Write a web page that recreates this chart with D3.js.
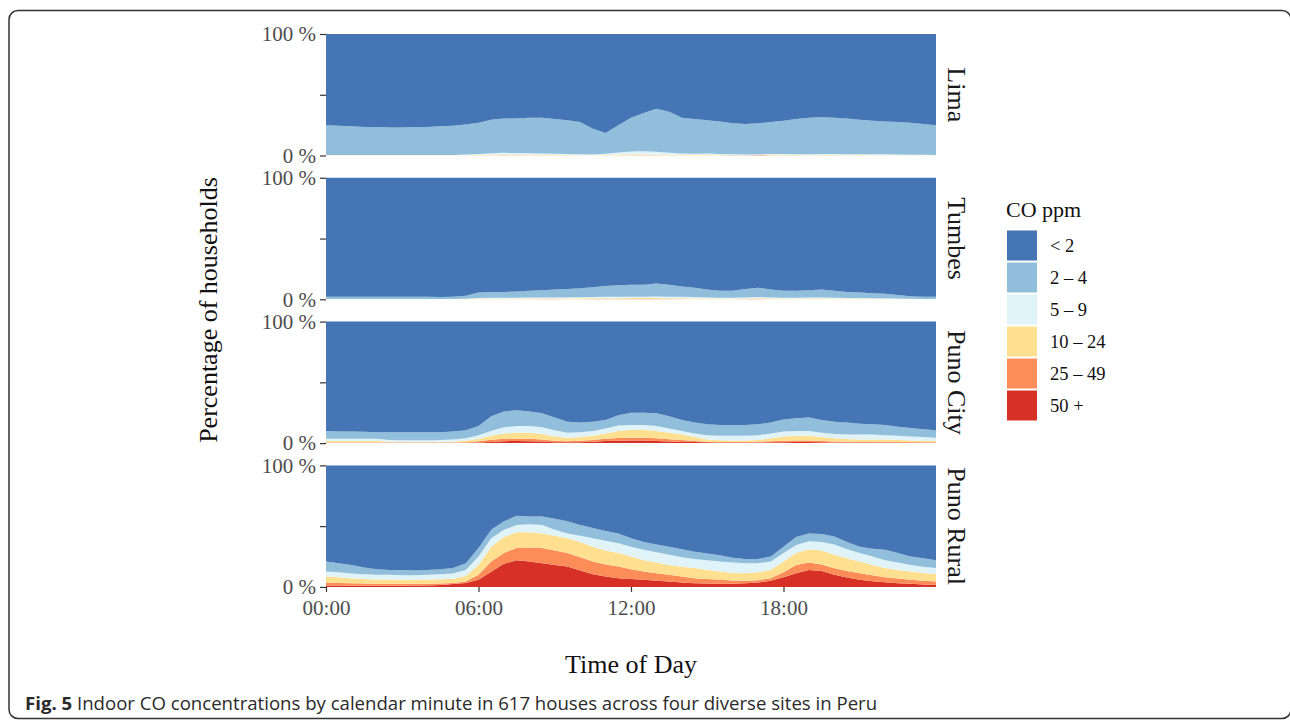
<!DOCTYPE html>
<html>
<head>
<meta charset="utf-8">
<script src="https://cdn.jsdelivr.net/npm/d3@7"></script>
<style>
  html, body { margin: 0; padding: 0; background: #fff; }
  svg { display: block; }
</style>
</head>
<body>
<div id="chart"></div>
<script>
// Percent of households at or above each CO threshold, every 30 minutes (00:00 .. 24:00)
const sites = ['Lima', 'Tumbes', 'Puno City', 'Puno Rural'];
const categories = ['50 +', '25 – 49', '10 – 24', '5 – 9', '2 – 4', '< 2'];
const legendOrder = ['< 2', '2 – 4', '5 – 9', '10 – 24', '25 – 49', '50 +'];
const colors = ['#d73027', '#fc8d59', '#fee090', '#e0f3f8', '#91bfdb', '#4575b4'];
const xTickLabels = ['00:00', '06:00', '12:00', '18:00'];
const xTickHours = [0, 6, 12, 18];

const limaGe2 = [25,24.5,24,23.5,23.5,23,23,23.5,23.5,24, 24.5,25.5,27,29.5,30.5,30.5,31,31,30,29, 27.5,22,18.5,25,31,35,38.5,36,31,30, 29,28,26.5,26,26.5,27.5,28.5,30,31,31.5, 31,30.5,29.5,28.5,28,27.5,27,26,25];
const limaGe5 = [0.5,0.5,0.5,0.5,0.5,0.5,0.5,0.5,0.5,0.5, 0.5,0.8,1.2,1.8,2.2,2,1.8,1.6,1.4,1.2, 1,0.9,1.5,2.5,3.2,3.4,3,2.2,1.6,1.4, 1.6,1.3,1,0.8,0.9,1.3,1.3,1,1,1.3, 1.2,1,1.1,1,1,0.9,0.7,0.6,0.5];
const limaGe10 = [0.2,0.2,0.2,0.2,0.2,0.2,0.2,0.2,0.2,0.2, 0.2,0.3,0.4,0.6,0.8,0.7,0.6,0.6,0.5,0.4, 0.3,0.3,0.4,0.6,0.8,0.8,0.7,0.6,0.5,0.4, 0.5,0.5,0.4,0.3,0.5,0.8,0.6,0.4,0.3,0.5, 0.4,0.3,0.4,0.3,0.3,0.3,0.2,0.2,0.2];
const limaGe25 = [0.1,0.1,0.1,0.1,0.1,0.1,0.1,0.1,0.1,0.1, 0.1,0.1,0.1,0.1,0.2,0.2,0.1,0.1,0.1,0.1, 0.1,0.1,0.1,0.1,0.2,0.2,0.2,0.1,0.1,0.1, 0.1,0.1,0.2,0.3,0.4,0.3,0.1,0.1,0.1,0.1, 0.1,0.1,0.1,0.1,0.1,0.1,0.1,0.1,0.1];
const limaGe50 = [0,0,0,0,0,0,0,0,0,0, 0,0,0,0,0.05,0.05,0,0,0,0, 0,0,0,0,0.05,0.05,0.05,0,0,0, 0,0,0.05,0.1,0.1,0.05,0,0,0,0, 0,0,0,0,0,0,0,0,0];

const tumbesGe2 = [2,2,2,2,2,2.2,2.2,2,2,1.8, 2,3,5.5,6,6,6.5,7,7.5,8,8.5, 9,10,11,11.5,12,12,13,12,10.5,9.5, 8,7,7,8.5,9.5,8,7,7,7.5,8, 7,6,5.5,5,4.5,3.5,2.5,2,2];
const tumbesGe5 = [0.3,0.3,0.3,0.3,0.3,0.3,0.3,0.3,0.3,0.3, 0.3,0.5,1,1.2,1.2,1.3,1.4,1.5,1.5,1.6, 1.7,1.8,2,2,2.2,2.2,2.4,2.2,2,1.8, 1.5,1.3,1.3,1.5,1.8,1.5,1.3,1.3,1.4,1.5, 1.3,1.1,1,0.9,0.8,0.6,0.4,0.3,0.3];
const tumbesGe10 = [0.1,0.1,0.1,0.1,0.1,0.1,0.1,0.1,0.1,0.1, 0.1,0.2,0.4,0.5,0.5,0.6,0.6,0.7,0.7,0.7, 0.8,0.8,0.9,0.9,1,1,1,0.9,0.8,0.7, 0.6,0.5,0.5,0.7,0.9,0.7,0.5,0.5,0.6,0.7, 0.5,0.4,0.4,0.3,0.3,0.2,0.1,0.1,0.1];
const tumbesGe25 = [0,0,0,0,0,0,0,0,0,0, 0,0.05,0.1,0.1,0.1,0.1,0.1,0.2,0.2,0.1, 0.1,0.2,0.2,0.2,0.2,0.2,0.2,0.2,0.1,0.1, 0.1,0.1,0.1,0.2,0.2,0.1,0.1,0.1,0.1,0.1, 0.1,0.1,0.05,0.05,0,0,0,0,0];
const tumbesGe50 = [0,0,0,0,0,0,0,0,0,0, 0,0,0,0,0,0,0,0.05,0.05,0, 0,0,0.05,0.05,0.05,0.05,0.05,0,0,0, 0,0,0,0,0,0,0,0,0,0, 0,0,0,0,0,0,0,0,0];

const cityGe2 = [10,9.5,9.5,9.3,9,9,9,9,9,9, 9.5,10.5,14,22,26,27,26,24.5,21,17.5, 17,17.5,19,23,25,25,24.5,22,19,17, 15.5,15,15,15,15.5,17,19.5,20.5,21,19, 17.5,17,16,15.5,15,13.5,12.5,11.5,10.5];
const cityGe5 = [3.6,3.6,3.6,3.6,3.6,2.5,2.3,2.3,2.4,2.5, 3,4,6.5,10,13,14,14,13,10.5,8.5, 9,10,12,14.5,15,15,14,12,10,8, 6.5,6,6,6,6.5,8,9.5,10,10,8.5, 7.5,7,7,7,6.5,6,5.5,5,4.5];
const cityGe10 = [1.7,1.7,1.7,1.7,1.7,1.2,0.9,0.8,0.8,0.9, 1.2,2,3.5,6,8,8.5,8.5,7.5,5.5,4.4, 5,6,8,10,11,11,10,8.5,7,5, 3,2.3,2.2,2.2,2.5,4,5.5,6,6,5, 4,3.3,3,3,3,2.5,2.2,1.9,1.7];
const cityGe25 = [0.5,0.5,0.5,0.5,0.5,0.5,0.5,0.5,0.5,0.5, 0.5,0.8,1.5,2.8,3.6,3.6,3.5,3,2,1.5, 2,2.5,3.5,4.2,4.4,4.4,4,3.2,2.5,1.8, 1.2,1,1,1,1.2,1.6,2,2.2,2.2,1.8, 1.3,1.1,1,1,1,1,0.9,0.8,0.7];
const cityGe50 = [0.2,0.2,0.2,0.2,0.2,0.2,0.2,0.2,0.2,0.2, 0.2,0.3,0.5,1,1.6,1.7,1.6,1.3,0.8,0.6, 0.8,1.2,1.7,2,2.2,2.2,1.8,1.3,1,1, 0.8,0.5,0.4,0.4,0.5,0.6,0.8,0.9,0.9,0.7, 0.5,0.4,0.4,0.4,0.3,0.3,0.3,0.3,0.3];

const ruralGe2 = [21,19.5,18,16,14.5,14,14,13.5,14,14.5, 15.5,19.5,32,47,54,58.5,58,58,56,54, 51,48.5,46,44,40,37,35,33,31,29, 27.5,26,24,23,23,25,33,41,44,43.5, 41.5,37,33,31.5,30.5,28,25,23.5,22];
const ruralGe5 = [12.7,12,11,10.5,10,10,9.5,9.5,10,10.5, 11,14,25,40,47,51,51.5,51,47,44, 42,40,38,36,33,30.5,28.5,26.5,24.5,23, 22,21,20,19.5,19.5,21,28,34.5,37.5,37, 35,31,28,25,22,20,18,16.5,15.5];
const ruralGe10 = [8.5,8,7,6.5,6,6,5.8,5.8,6,6.3, 6.8,9,18,33,41,45,45,44,42,40, 37,33,30,28,25,22,20,18,16.5,15.5, 14,12.7,11.5,11.3,12,14,21,28,31,30, 26.5,23.5,21,18,15.5,14,12.7,11.5,10.7];
const ruralGe25 = [3.6,3.3,3,2.8,2.5,2.5,2.5,2.5,2.6,2.8, 3.2,4.5,10,21,28,32,32.5,32,30,28, 24.5,21,18.5,16.8,14.5,12.7,11.3,10,8.5,7.2, 6.5,5.8,5.3,5,5.5,7.2,12,18,20,18.5, 15.4,13,11.3,9.5,8,7,5.8,5,4.4];
const ruralGe50 = [1.1,1.1,1,1,1,1,1,1.1,1.2,1.6, 2.3,3.2,5.8,12.5,19,22,21,19.5,18,16.8, 13.5,10.5,8.5,7.2,6.5,5.8,5,4.4,3.6,3, 2.7,2.5,2.6,3,3.6,5,8,11.3,14,13, 10,7.8,5.8,4.7,3.9,3.1,2.5,2,1.7];

const exceed = {
    'Lima': [limaGe50, limaGe25, limaGe10, limaGe5, limaGe2],
    'Tumbes': [tumbesGe50, tumbesGe25, tumbesGe10, tumbesGe5, tumbesGe2],
    'Puno City': [cityGe50, cityGe25, cityGe10, cityGe5, cityGe2],
    'Puno Rural': [ruralGe50, ruralGe25, ruralGe10, ruralGe5, ruralGe2]
};

// turn exceedance curves into per-category shares for d3.stack
function buildRows(site) {
    const ge = exceed[site];
    return ge[0].map((_, i) => {
        const row = { hour: i / 2 };
        let below = 0;
        ge.forEach((arr, k) => {
            row[categories[k]] = Math.max(0, arr[i] - below);
            below = arr[i];
        });
        row['< 2'] = 100 - below;
        return row;
    });
}

const width = 1290, height = 721;
const panel = { left: 326, right: 936, top: 34, height: 121.5, step: 143.8 };

const svg = d3.select('#chart').append('svg')
    .attr('width', width)
    .attr('height', height);

// outer figure frame (right edge runs just past the page)
svg.append('rect')
    .attr('x', 9).attr('y', 10.5)
    .attr('width', 1282).attr('height', 708)
    .attr('rx', 9).attr('ry', 9)
    .attr('fill', 'none')
    .attr('stroke', '#333')
    .attr('stroke-width', 1.5);

const x = d3.scaleLinear().domain([0, 24]).range([panel.left, panel.right]);
const color = d3.scaleOrdinal().domain(categories).range(colors);
const stack = d3.stack().keys(categories);
const serif = '"Liberation Serif", "DejaVu Serif", serif';

sites.forEach((site, i) => {
    const top = panel.top + i * panel.step;
    const y = d3.scaleLinear().domain([0, 100]).range([top + panel.height, top]);
    const series = stack(buildRows(site));

    const area = d3.area()
        .x(d => x(d.data.hour))
        .y0(d => y(d[0]))
        .y1(d => y(d[1]));

    const g = svg.append('g');
    g.selectAll('path')
        .data(series)
        .enter()
        .append('path')
        .attr('d', area)
        .attr('fill', d => color(d.key));

    // y axis: 0, 50, 100 with only the ends labelled
    const yAxis = d3.axisLeft(y)
        .tickValues([0, 50, 100])
        .tickSize(6)
        .tickPadding(4)
        .tickFormat(v => v === 50 ? '' : v + ' %');
    const ya = svg.append('g')
        .attr('transform', `translate(${panel.left},0)`)
        .call(yAxis);
    ya.select('.domain').remove();
    ya.selectAll('line').attr('stroke', '#333').attr('stroke-width', 1.2);
    ya.selectAll('text')
        .attr('font-family', serif)
        .attr('font-size', 21)
        .attr('fill', '#4d4d4d');

    // facet strip label
    svg.append('text')
        .attr('transform', `translate(${948},${top + panel.height / 2}) rotate(90)`)
        .attr('text-anchor', 'middle')
        .attr('font-family', serif)
        .attr('font-size', 26)
        .attr('fill', '#1a1a1a')
        .text(site);
});

// x axis under the last panel
const bottom = panel.top + 3 * panel.step + panel.height;
const xAxis = d3.axisBottom(x)
    .tickValues(xTickHours)
    .tickSize(5)
    .tickPadding(8)
    .tickFormat((d, i) => xTickLabels[i]);
const xa = svg.append('g')
    .attr('transform', `translate(0,${bottom})`)
    .call(xAxis);
xa.select('.domain').remove();
xa.selectAll('line').attr('stroke', '#333').attr('stroke-width', 1.2);
xa.selectAll('text')
    .attr('font-family', serif)
    .attr('font-size', 21)
    .attr('fill', '#4d4d4d');

// axis titles
svg.append('text')
    .attr('x', (panel.left + panel.right) / 2)
    .attr('y', 673)
    .attr('text-anchor', 'middle')
    .attr('font-family', serif)
    .attr('font-size', 26)
    .attr('fill', '#111')
    .text('Time of Day');

svg.append('text')
    .attr('transform', `translate(217,${310}) rotate(-90)`)
    .attr('text-anchor', 'middle')
    .attr('font-family', serif)
    .attr('font-size', 26)
    .attr('fill', '#111')
    .text('Percentage of households');

// legend
const legend = svg.append('g').attr('transform', 'translate(1006,0)');
legend.append('text')
    .attr('x', 0).attr('y', 217)
    .attr('font-family', serif)
    .attr('font-size', 22)
    .attr('fill', '#111')
    .text('CO ppm');

const keys = legend.selectAll('g.key')
    .data(legendOrder)
    .enter()
    .append('g')
    .attr('class', 'key')
    .attr('transform', (d, i) => `translate(0,${230.5 + i * 32})`);
keys.append('rect')
    .attr('x', 1).attr('width', 30).attr('height', 30)
    .attr('fill', d => color(d));
keys.append('text')
    .attr('x', 44).attr('y', 21)
    .attr('font-family', serif)
    .attr('font-size', 18.5)
    .attr('fill', '#111')
    .text(d => d);

// figure caption
const cap = svg.append('text')
    .attr('x', 25).attr('y', 710)
    .attr('font-family', '"Open Sans", "Noto Sans", sans-serif')
    .attr('font-size', 18.6)
    .attr('fill', '#2a2a2a');
cap.append('tspan').attr('font-weight', 'bold').text('Fig. 5');
cap.append('tspan').text(' Indoor CO concentrations by calendar minute in 617 houses across four diverse sites in Peru');
</script>
</body>
</html>
